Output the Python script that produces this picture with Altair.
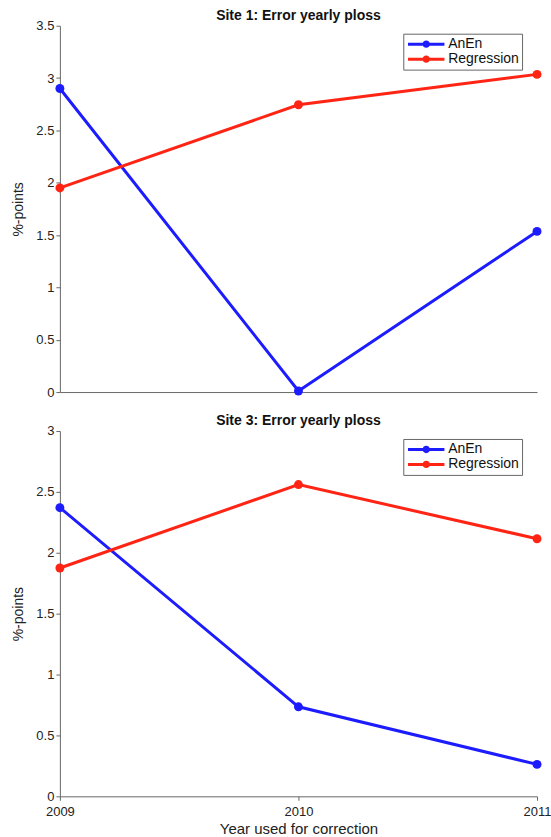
import altair as alt
import pandas as pd

years = [2009, 2010, 2011]
series = ["AnEn", "Regression"]
site1_anen = [2.90, 0.01, 1.535]
site1_regr = [1.95, 2.745, 3.035]
site3_anen = [2.37, 0.735, 0.262]
site3_regr = [1.875, 2.56, 2.115]
titles = ["Site 1: Error yearly ploss", "Site 3: Error yearly ploss"]
y_ticks_1 = [0, 0.5, 1, 1.5, 2, 2.5, 3, 3.5]
y_ticks_3 = [0, 0.5, 1, 1.5, 2, 2.5, 3]
colors = ["#1c1cff", "#ff2414"]

FONT = "Liberation Sans"


def make_df(anen, regr):
    rows = []
    for y, a, r in zip(years, anen, regr):
        rows.append({"year": str(y), "value": a, "series": "AnEn"})
        rows.append({"year": str(y), "value": r, "series": "Regression"})
    return pd.DataFrame(rows)


legend_symbol = ("M-1,0L1,0"
                 "M-0.12,0A0.12,0.12 0 1,0 0.12,0A0.12,0.12 0 1,0 -0.12,0"
                 "M-0.04,0A0.04,0.04 0 1,0 0.04,0A0.04,0.04 0 1,0 -0.04,0")


def panel(anen, regr, title, yticks, ymax, show_x, height):
    df = make_df(anen, regr)
    x_axis = alt.Axis(
        title="Year used for correction" if show_x else None,
        labels=show_x, ticks=show_x, tickSize=4, grid=False, labelOverlap=False,
        labelAngle=0,
        domainColor="#666666", tickColor="#666666", labelColor="#222222",
        labelFontSize=13, titleFontSize=15, titleColor="#222222",
        titleFontWeight="normal",
        labelPadding=5, titlePadding=3, labelFont=FONT, titleFont=FONT,
    )
    y_axis = alt.Axis(
        values=yticks, format="~g", title="%-points", grid=False, tickSize=4,
        domainColor="#666666", tickColor="#666666", labelColor="#222222",
        labelFontSize=13, titleFontSize=14, titleColor="#222222",
        titleFontWeight="normal", labelOverlap=False,
        labelPadding=2, titlePadding=10, labelFont=FONT, titleFont=FONT,
    )
    x = alt.X("year:O", sort=[str(v) for v in years],
              scale=alt.Scale(type="point", padding=0), axis=x_axis)
    y = alt.Y("value:Q", scale=alt.Scale(domain=[0, ymax], nice=False), axis=y_axis)
    color = alt.Color(
        "series:N",
        scale=alt.Scale(domain=series, range=colors),
        legend=alt.Legend(
            title=None, orient="none", legendX=344, legendY=8,
            symbolType=legend_symbol, symbolSize=1330, symbolStrokeWidth=3,
            labelFontSize=14, labelFont=FONT, labelColor="#111111",
            strokeColor="#666666", fillColor="white", padding=3,
            rowPadding=0, symbolOffset=0, labelOffset=2, clipHeight=15,
        ),
    )
    base = alt.Chart(df).encode(x=x, y=y, color=color)
    pts = base.mark_point(filled=True, size=80, opacity=1, clip=False)
    lines = base.mark_line(strokeWidth=3, clip=False)
    return alt.layer(pts, lines).properties(
        width=478, height=height,
        title=alt.TitleParams(title, fontSize=14, font=FONT, fontWeight="bold",
                              color="#111111", offset=-3, frame="group"),
    )


top = panel(site1_anen, site1_regr, titles[0], y_ticks_1, 3.5, False, 367)
bottom = panel(site3_anen, site3_regr, titles[1], y_ticks_3, 3, True, 366)

chart = alt.vconcat(top, bottom, spacing=15).resolve_scale(
    color="independent"
).properties(
    padding={"left": 11, "top": 8, "right": 0, "bottom": 0},
    background="white",
).configure_view(stroke=None)

chart.save("out.html", embed_options={"renderer": "svg", "actions": False})
